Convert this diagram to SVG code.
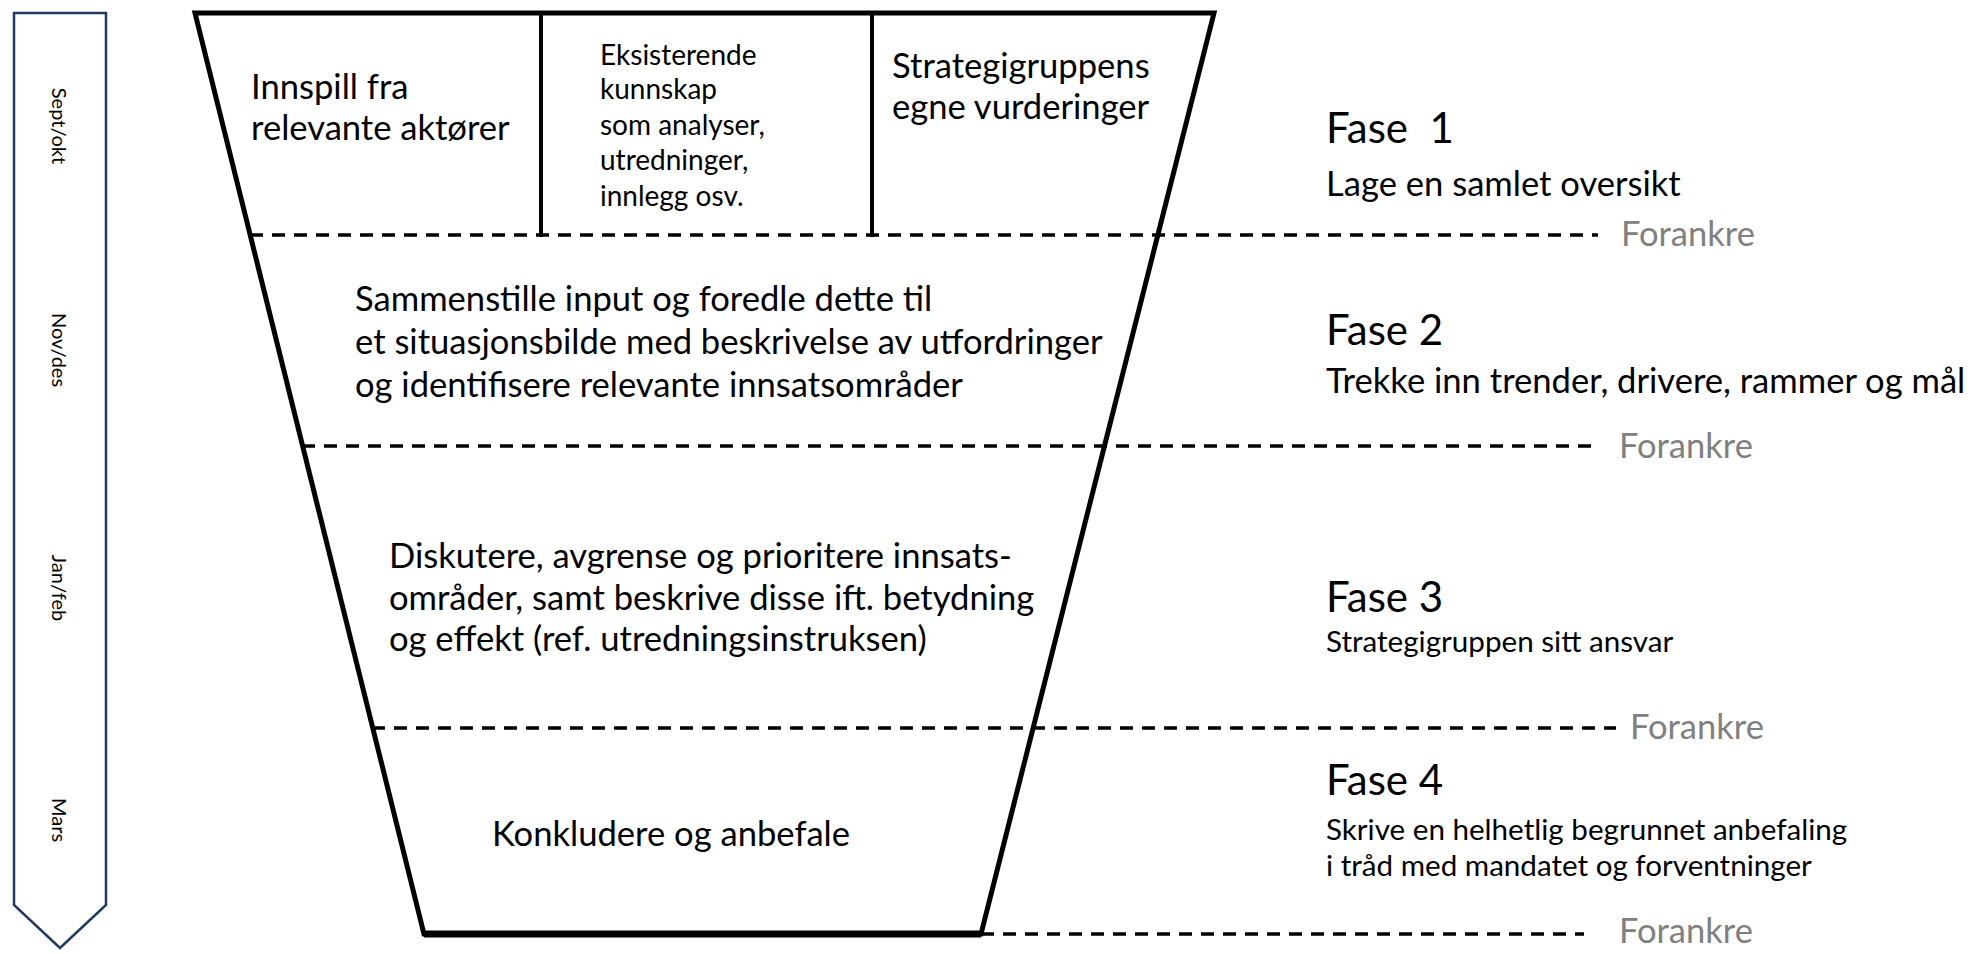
<svg xmlns="http://www.w3.org/2000/svg" width="1977" height="954" viewBox="0 0 1977 954">
<style>
text{font-family:Lato,"Liberation Sans",sans-serif;fill:#000}
.m{font-size:20px}
.b{font-size:34.6px}
.e{font-size:28px}
.s{font-size:29.6px}
.h{font-size:42px}
.f{font-size:34.5px;fill:#808080}
.dash{stroke:#000;stroke-width:3.5;stroke-dasharray:13 9;fill:none}
</style>
<rect width="1977" height="954" fill="#fff"/>
<g id="timeline">
<polygon points="14,13 106,13 106,905 60,948 14,905" fill="#fff" stroke="#1F3864" stroke-width="2.5"/>
<text class="m" transform="translate(60,126) rotate(90)" text-anchor="middle" dominant-baseline="central">Sept/okt</text>
<text class="m" transform="translate(60,350) rotate(90)" text-anchor="middle" dominant-baseline="central">Nov/des</text>
<text class="m" transform="translate(60,588) rotate(90)" text-anchor="middle" dominant-baseline="central">Jan/feb</text>
<text class="m" transform="translate(60,820) rotate(90)" text-anchor="middle" dominant-baseline="central">Mars</text>
</g>
<g id="funnel">
<polygon points="195,13 1214,13 981,934 424,934" fill="none" stroke="#000" stroke-width="5"/>
<line x1="424" y1="934" x2="981" y2="934" stroke="#000" stroke-width="7"/>
<line x1="541" y1="13" x2="541" y2="237" stroke="#000" stroke-width="4"/>
<line x1="872" y1="13" x2="872" y2="237" stroke="#000" stroke-width="4"/>
</g>
<g id="connectors">
<line class="dash" x1="250" y1="235" x2="1598" y2="235"/>
<line class="dash" x1="302" y1="446" x2="1595" y2="446"/>
<line class="dash" x1="372" y1="728" x2="1616" y2="728"/>
<line class="dash" x1="981" y1="934" x2="1584" y2="934"/>
</g>
<g id="input1">
<text class="b" x="251" y="99">Innspill fra</text>
<text class="b" x="251" y="140">relevante aktører</text>
</g>
<g id="input2">
<text class="e" x="600" y="65">Eksisterende</text>
<text class="e" x="600" y="99">kunnskap</text>
<text class="e" x="600" y="135">som analyser,</text>
<text class="e" x="600" y="170">utredninger,</text>
<text class="e" x="600" y="206">innlegg osv.</text>
</g>
<g id="input3">
<text class="b" x="892" y="78">Strategigruppens</text>
<text class="b" x="892" y="119">egne vurderinger</text>
</g>
<g id="step2">
<text class="b" x="355" y="311">Sammenstille input og foredle dette til</text>
<text class="b" x="355" y="354">et situasjonsbilde med beskrivelse av utfordringer</text>
<text class="b" x="355" y="397">og identifisere relevante innsatsområder</text>
</g>
<g id="step3">
<text class="b" x="389" y="568">Diskutere, avgrense og prioritere innsats-</text>
<text class="b" x="389" y="610">områder, samt beskrive disse ift. betydning</text>
<text class="b" x="389" y="651">og effekt (ref. utredningsinstruksen)</text>
</g>
<g id="step4">
<text class="b" x="492" y="846">Konkludere og anbefale</text>
</g>
<g id="phase1">
<text class="h" x="1326" y="143" xml:space="preserve">Fase  1</text>
<text class="b" x="1326" y="196">Lage en samlet oversikt</text>
<text class="f" x="1621" y="246">Forankre</text>
</g>
<g id="phase2">
<text class="h" x="1326" y="345">Fase 2</text>
<text class="b" x="1326" y="393">Trekke inn trender, drivere, rammer og mål</text>
<text class="f" x="1619" y="458">Forankre</text>
</g>
<g id="phase3">
<text class="h" x="1326" y="612">Fase 3</text>
<text class="s" x="1326" y="652">Strategigruppen sitt ansvar</text>
<text class="f" x="1630" y="739">Forankre</text>
</g>
<g id="phase4">
<text class="h" x="1326" y="795">Fase 4</text>
<text class="s" x="1326" y="840">Skrive en helhetlig begrunnet anbefaling</text>
<text class="s" x="1326" y="876">i tråd med mandatet og forventninger</text>
<text class="f" x="1619" y="943">Forankre</text>
</g>
</svg>
